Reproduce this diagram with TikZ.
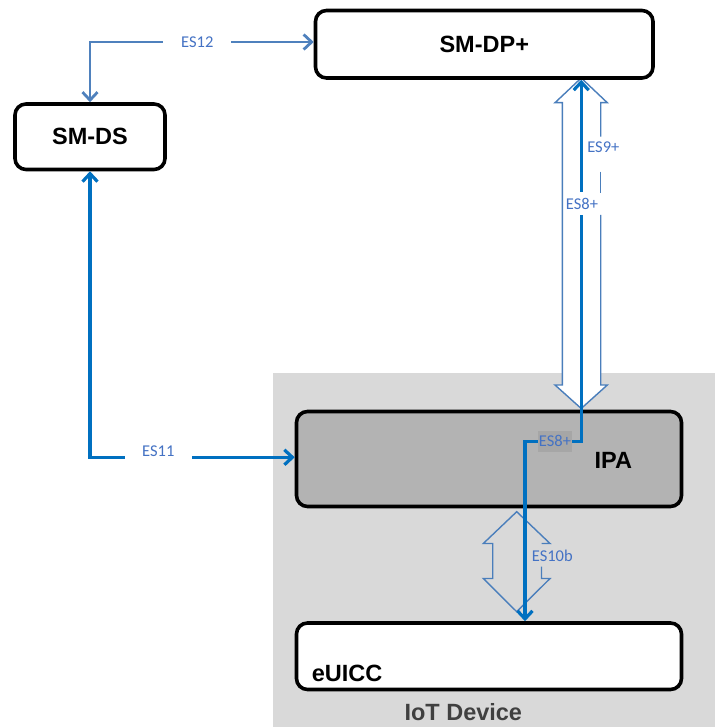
\documentclass[tikz,border=0pt]{standalone}
\usepackage{fontspec}
\setmainfont{Liberation Sans}
\newfontfamily\labelfont{Carlito}
\usetikzlibrary{arrows.meta}
\definecolor{bggray}{HTML}{D9D9D9}
\definecolor{ipagray}{HTML}{B3B3B3}
\definecolor{hlgray}{HTML}{A6A6A6}
\definecolor{linkblue}{HTML}{0070C0}
\definecolor{softblue}{HTML}{4F81BD}
\definecolor{outlineblue}{HTML}{4A7EBB}
\definecolor{labelblue}{HTML}{4472C4}
\definecolor{devtext}{HTML}{404040}
\begin{document}
\begin{tikzpicture}[x=1pt,y=-1pt,
  lbarb/.tip={Straight Barb[length=8pt,width=15pt]},
  box/.style={draw=black, line width=3.6pt, rounded corners=11pt, fill=white, inner sep=0pt},
  boxtext/.style={font=\fontsize{23.5}{27}\selectfont\bfseries},
  es12line/.style={draw=softblue, line width=2.8pt, lbarb-lbarb},
  esline/.style={draw=linkblue, line width=3.2pt, lbarb-lbarb},
  hollow/.style={draw=outlineblue, line width=1.4pt},
  lbl/.style={font=\labelfont\fontsize{16.5}{19}\selectfont, text=labelblue, inner sep=0pt}
]
\useasboundingbox (0,0) rectangle (715,727);
% device area
\fill[bggray] (273,373) rectangle (715,727);

% hollow arrow ES9+
\fill[white] (581.2,78) -- (607.3,102.7) -- (600.7,102.7) -- (600.7,385) -- (607.3,385) -- (581.2,408.5) -- (555,385) -- (562.3,385) -- (562.3,102.7) -- (555,102.7) -- cycle;
\draw[hollow] (600.7,136.7) -- (600.7,102.7) -- (607.3,102.7) -- (581.2,78) -- (555,102.7) -- (562.3,102.7) -- (562.3,385) -- (555,385) -- (581.2,408.5) -- (607.3,385) -- (600.7,385) -- (600.7,215);
\draw[hollow] (600.7,171.7) -- (600.7,193);

% hollow arrow ES10b
\draw[hollow] (541.5,566.7) -- (541.5,578.5) -- (550,578.5) -- (516.7,611.7) -- (483.3,578.5) -- (492.7,578.5) -- (492.7,543.5) -- (483.3,543.5) -- (516.7,511.7) -- (550,543.5) -- (541.5,543.5);

% boxes
\node[box, boxtext, minimum width=337.5pt, minimum height=67.5pt] (dp) at (484.25,44.25) {SM-DP+};
\node[box, boxtext, minimum width=150pt, minimum height=65.5pt] (ds) at (90,136.75) {SM-DS};
\node[box, fill=ipagray, minimum width=385pt, minimum height=95pt] (ipa) at (489,459) {};
\node[box, minimum width=385pt, minimum height=66.5pt] (euicc) at (489,656.25) {};
\node[boxtext] (ipatext) at (613.3,460) {IPA};
\node[boxtext] (euicctext) at (347,673.3) {eUICC};
\node[boxtext, text=devtext] (iot) at (463.3,711.7) {IoT Device};

% connectors
\draw[es12line] (ds.north) |- ([yshift=2.25pt]dp.west);
\draw[esline] (ds.south) |- ([yshift=1.7pt]ipa.west);
\coordinate (b1) at (581.2,441.5);
\coordinate (b2) at (525,441.5);
\draw[esline] (b1 |- dp.south) -- (b1) -- (b2) -- (b2 |- euicc.north);

% labels
\node[lbl, fill=white, minimum width=68pt, minimum height=20pt] (l12) at (197.3,42) {ES12};
\node[lbl, fill=white, minimum width=67pt, minimum height=22pt] (l11) at (158.3,451) {ES11};
\node[lbl, fill=white, inner xsep=1.5pt, minimum height=23pt] (l8a) at (582,203.5) {ES8+};
\node[lbl, fill=hlgray, minimum width=33.5pt, minimum height=21pt] (l8b) at (555,441) {ES8+};
\node[lbl] (l9) at (603.3,147) {ES9+};
\node[lbl] (l10) at (552.3,555.5) {ES10b};
\end{tikzpicture}
\end{document}
